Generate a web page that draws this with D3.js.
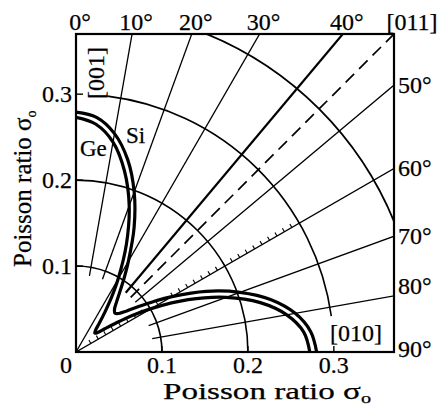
<!DOCTYPE html>
<html><head><meta charset="utf-8">
<script src="https://cdn.jsdelivr.net/npm/d3@7"></script>
<style>
body{margin:0;background:#fff}
svg{display:block}
text{font-family:"Liberation Serif","Times New Roman",serif;fill:#000;stroke:#000;stroke-width:0.25px}
</style>
</head><body>
<svg id="chart" width="440" height="407"></svg>
<script>
// ---- data (angle measured from [001] toward [010], degrees) ----
const angles   = [0,5,10,15,20,25,30,33,36,39,42,45,48,51,54,57,60,65,70,75,80,85,90];
const siValues = [0.279,0.274,0.258,0.232,0.198,0.160,0.122,0.103,0.087,0.075,0.067,0.064,0.067,0.076,0.090,0.108,0.129,0.167,0.203,0.235,0.259,0.274,0.280];
const geValues = [0.273,0.266,0.248,0.218,0.181,0.139,0.098,0.076,0.057,0.043,0.034,0.031,0.034,0.043,0.057,0.078,0.101,0.144,0.186,0.222,0.249,0.266,0.272];
const gridRadii = [0.1,0.2,0.3,0.4];
const rayAngles = [10,20,30,40,45,50,60,70,80];
const axisTicks = [0.1,0.2,0.3];
const topAngleLabels = [0,10,20,30,40];
const rightAngleLabels = [50,60,70,80,90];
const axisTitle = "Poisson ratio σ";
const axisTitleSub = "o";

// ---- scales ----
const svg = d3.select("#chart");
const x = d3.scaleLinear().domain([0,0.37]).range([76,394]);
const y = d3.scaleLinear().domain([0,0.37]).range([352,34]);
const rad = d => d*Math.PI/180;
const px = (v,a) => x(v*Math.sin(rad(a)));
const py = (v,a) => y(v*Math.cos(rad(a)));

svg.append("defs").append("clipPath").attr("id","clip")
  .append("rect").attr("x",x(0)).attr("y",y(0.37)).attr("width",x(0.37)-x(0)).attr("height",y(0)-y(0.37));

const g = svg.append("g").attr("clip-path","url(#clip)");

// grid arcs
const arcRange = v => v===0.3 ? [7,82] : [0,90];
gridRadii.forEach(v=>{
  const [a0,a1] = arcRange(v);
  const p = d3.path();
  const R = x(v)-x(0);
  p.arc(x(0), y(0), R, rad(a0-90), rad(a1-90), false);
  g.append("path").attr("d",p.toString()).attr("fill","none").attr("stroke","#000")
   .attr("stroke-width", v===0.4?1.8:1.6);
});

// rays
rayAngles.forEach(a=>{
  const r0 = (a===30||a===60) ? 0 : 0.09;
  g.append("line")
    .attr("x1",px(r0,a)).attr("y1",py(r0,a))
    .attr("x2",px(0.6,a)).attr("y2",py(0.6,a))
    .attr("stroke","#000")
    .attr("stroke-width", a===40?2.2:(a===45?1.7:1.3))
    .attr("stroke-dasharray", a===45?"12,7":null);
});

// hatch ticks along the 60 deg ray
d3.range(0.02,0.295,0.01).forEach(t=>{
  const a=60, L=4;
  const x1=px(t,a), y1=py(t,a);
  g.append("line").attr("x1",x1).attr("y1",y1)
   .attr("x2",x1-L*Math.cos(rad(a))).attr("y2",y1-L*Math.sin(rad(a)))
   .attr("stroke","#000").attr("stroke-width",1.1);
});

// curves
const line = d3.line().x(d=>px(d[1],d[0])).y(d=>py(d[1],d[0])).curve(d3.curveCatmullRom.alpha(0.5));
[siValues, geValues].forEach(vals=>{
  g.append("path").attr("d", line(angles.map((a,i)=>[a,vals[i]])))
   .attr("fill","none").attr("stroke","#000").attr("stroke-width",3.2).attr("stroke-linejoin","round");
});

// frame
svg.append("rect").attr("x",x(0)).attr("y",y(0.37)).attr("width",x(0.37)-x(0)).attr("height",y(0)-y(0.37))
  .attr("fill","none").attr("stroke","#000").attr("stroke-width",2.2);

// axis ticks (inward)
axisTicks.forEach(v=>{
  svg.append("line").attr("x1",x(v)).attr("x2",x(v)).attr("y1",y(0)).attr("y2",y(0)-6).attr("stroke","#000").attr("stroke-width",1.4);
  svg.append("line").attr("x1",x(0)).attr("x2",x(0)+7).attr("y1",y(v)).attr("y2",y(v)).attr("stroke","#000").attr("stroke-width",1.4);
});

const fs = 24;
// bottom tick labels
svg.append("text").attr("x",x(0)-10).attr("y",373).attr("text-anchor","middle").attr("font-size",fs).text("0");
axisTicks.forEach(v=>{
  svg.append("text").attr("x",x(v)).attr("y",373).attr("text-anchor","middle").attr("font-size",fs).text(v.toFixed(1));
  svg.append("text").attr("x",x(0)-4).attr("y",y(v)+8).attr("text-anchor","end").attr("font-size",fs).text(v.toFixed(1));
});

// top angle labels
topAngleLabels.forEach(a=>{
  const xx = x(0.37*Math.tan(rad(a)));
  svg.append("text").attr("x",xx+4).attr("y",30).attr("text-anchor","middle").attr("font-size",fs).text(a+"°");
});
// right angle labels
rightAngleLabels.forEach(a=>{
  let yy = y(0.37/Math.tan(rad(a)));
  if (a===80) yy -= 10;
  if (a===90) yy -= 3;
  svg.append("text").attr("x",398).attr("y",yy+8).attr("font-size",fs).text(a+"°");
});

// direction labels
svg.append("text").attr("x",412).attr("y",30).attr("text-anchor","middle").attr("font-size",fs).text("[011]");
svg.append("text").attr("x",356).attr("y",341).attr("text-anchor","middle").attr("font-size",fs).text("[010]");
svg.append("text").attr("transform","translate(104,73) rotate(-90)").attr("text-anchor","middle").attr("font-size",fs).text("[001]");

// material labels
svg.append("text").attr("x",80).attr("y",156).attr("font-size",23).text("Ge");
svg.append("text").attr("x",126).attr("y",143).attr("font-size",23).text("Si");

// axis titles
const xt = svg.append("text").attr("x",163).attr("y",399).attr("font-size",23);
xt.append("tspan").text(axisTitle);
xt.append("tspan").attr("font-size",14).attr("dy",4).text(axisTitleSub);
xt.attr("textLength",208).attr("lengthAdjust","spacingAndGlyphs");

const yt = svg.append("text").attr("transform","translate(31,267) rotate(-90)").attr("font-size",25);
yt.append("tspan").text(axisTitle);
yt.append("tspan").attr("font-size",14).attr("dy",5).text(axisTitleSub);
</script>
</body></html>
